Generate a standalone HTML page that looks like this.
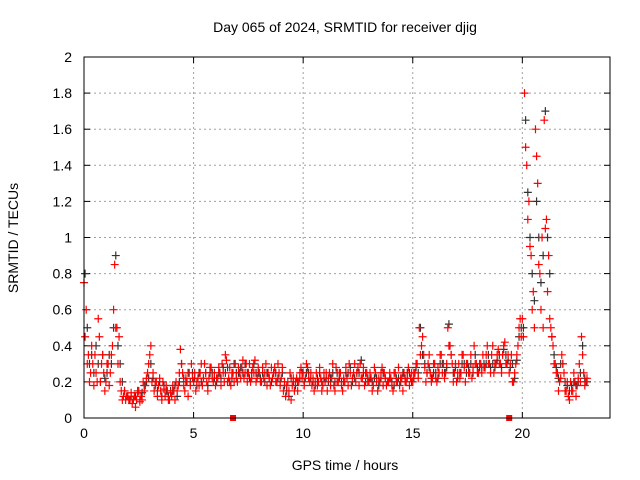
<!DOCTYPE html>
<html><head><meta charset="utf-8"><style>
body{margin:0;background:#fff;}
svg{display:block;font-family:"Liberation Sans",sans-serif;}
</style></head><body>
<svg id="chart" width="640" height="480">
<text x="345" y="32" font-size="14" text-anchor="middle">Day 065 of 2024, SRMTID for receiver djig</text>
<text x="345" y="470" font-size="14" text-anchor="middle">GPS time / hours</text>
<text x="18" y="238" font-size="14" text-anchor="middle" transform="rotate(-90 18 238)">SRMTID / TECUs</text>
<g id="grid"></g><g id="ticks"></g><g id="black"></g><g id="red"></g>
<rect x="84" y="57" width="526" height="361" fill="none" stroke="#000"/>
</svg>
<script>
const xTicks=[0,5,10,15,20];
const yTicks=[0,0.2,0.4,0.6,0.8,1,1.2,1.4,1.6,1.8,2];
const hours=[0,1,2,3,4,5,6,7,8,9,10,11,12,13,14,15,16,17,18,19,20,21,22];
const red1=[
[0.75,0.6,0.35,0.25,0.3,0.35,0.2,0.45,0.3,0.25],
[0.2,0.3,0.25,0.4,0.85,0.5,0.45,0.15,0.12,0.1],
[0.12,0.1,0.08,0.12,0.1,0.15,0.12,0.2,0.18,0.25],
[0.35,0.2,0.15,0.2,0.18,0.15,0.2,0.12,0.15,0.1],
[0.12,0.15,0.2,0.18,0.38,0.25,0.15,0.2,0.25,0.3],
[0.2,0.15,0.22,0.25,0.18,0.3,0.2,0.22,0.28,0.2],
[0.18,0.22,0.25,0.3,0.2,0.32,0.22,0.18,0.25,0.3],
[0.2,0.25,0.28,0.22,0.3,0.25,0.2,0.28,0.32,0.22],
[0.25,0.2,0.22,0.3,0.25,0.18,0.22,0.28,0.2,0.25],
[0.22,0.15,0.12,0.2,0.25,0.18,0.15,0.22,0.2,0.28],
[0.25,0.22,0.28,0.2,0.18,0.15,0.25,0.2,0.22,0.18],
[0.2,0.15,0.25,0.22,0.18,0.28,0.2,0.25,0.15,0.2],
[0.22,0.3,0.18,0.25,0.2,0.28,0.3,0.22,0.18,0.25],
[0.2,0.22,0.18,0.25,0.15,0.2,0.28,0.25,0.18,0.2],
[0.22,0.15,0.25,0.2,0.18,0.22,0.25,0.2,0.28,0.22],
[0.2,0.25,0.3,0.5,0.4,0.35,0.2,0.3,0.25,0.22],
[0.3,0.2,0.25,0.35,0.3,0.25,0.5,0.4,0.3,0.25],
[0.2,0.3,0.25,0.35,0.2,0.3,0.25,0.22,0.4,0.3],
[0.25,0.3,0.35,0.28,0.4,0.3,0.35,0.25,0.3,0.38],
[0.3,0.35,0.42,0.3,0.25,0.35,0.2,0.3,0.4,0.55],
[0.55,1.8,1.4,1.2,0.9,0.7,1.6,1.3,0.8,1.0],
[1.65,1.1,0.9,0.5,0.4,0.3,0.25,0.2,0.35,0.25],
[0.15,0.12,0.2,0.15,0.2,0.18,0.3,0.45,0.25,0.2]];
const red2=[
[0.45,0.3,0.2,0.4,0.18,0.25,0.55,0.2,0.35,0.15],
[0.3,0.18,0.35,0.6,0.5,0.3,0.2,0.1,0.15,0.12],
[0.1,0.14,0.1,0.06,0.14,0.09,0.1,0.15,0.22,0.3],
[0.4,0.25,0.2,0.12,0.22,0.1,0.16,0.18,0.1,0.14],
[0.18,0.1,0.15,0.25,0.3,0.18,0.22,0.12,0.18,0.22],
[0.25,0.2,0.18,0.3,0.22,0.25,0.15,0.28,0.22,0.25],
[0.22,0.28,0.18,0.25,0.35,0.2,0.28,0.25,0.2,0.22],
[0.28,0.22,0.32,0.25,0.2,0.3,0.22,0.25,0.2,0.28],
[0.2,0.28,0.25,0.18,0.22,0.28,0.25,0.2,0.3,0.18],
[0.28,0.2,0.18,0.15,0.1,0.22,0.2,0.15,0.25,0.22],
[0.18,0.3,0.22,0.25,0.22,0.2,0.18,0.28,0.15,0.25],
[0.25,0.22,0.18,0.3,0.15,0.2,0.25,0.18,0.22,0.28],
[0.18,0.25,0.22,0.3,0.25,0.18,0.22,0.28,0.25,0.2],
[0.25,0.15,0.28,0.2,0.22,0.25,0.18,0.22,0.2,0.25],
[0.18,0.25,0.2,0.28,0.22,0.15,0.2,0.22,0.18,0.25],
[0.25,0.3,0.22,0.35,0.45,0.28,0.25,0.35,0.2,0.3],
[0.22,0.28,0.35,0.25,0.22,0.3,0.4,0.35,0.2,0.3],
[0.25,0.22,0.35,0.28,0.3,0.25,0.35,0.28,0.3,0.25],
[0.3,0.25,0.28,0.35,0.3,0.25,0.4,0.3,0.35,0.3],
[0.25,0.4,0.3,0.35,0.3,0.2,0.25,0.35,0.5,0.45],
[0.45,1.5,1.1,0.95,0.6,0.5,1.45,0.85,0.6,0.5],
[1.05,0.7,0.55,0.45,0.3,0.25,0.15,0.22,0.3,0.15],
[0.2,0.1,0.15,0.25,0.12,0.22,0.2,0.35,0.18,0.22]];
const black1=[
[0.8,0.5,0.3,0.35,0.25,0.4,0.3,0.2,0.35,0.22],
[0.25,0.35,0.3,0.5,0.9,0.4,0.3,0.2,0.15,0.12],
[0.1,0.12,0.1,0.12,0.15,0.1,0.14,0.18,0.2,0.22],
[0.3,0.22,0.18,0.15,0.2,0.12,0.18,0.15,0.12,0.15],
[0.15,0.18,0.12,0.2,0.3,0.22,0.2,0.25,0.2,0.25],
[0.22,0.18,0.25,0.2,0.22,0.25,0.18,0.25,0.25,0.22],
[0.2,0.25,0.22,0.28,0.25,0.28,0.2,0.22,0.3,0.25],
[0.25,0.28,0.25,0.3,0.25,0.22,0.25,0.3,0.25,0.25],
[0.22,0.25,0.2,0.25,0.22,0.2,0.25,0.25,0.22,0.2],
[0.25,0.18,0.15,0.12,0.22,0.2,0.18,0.2,0.22,0.25],
[0.2,0.25,0.25,0.22,0.2,0.18,0.22,0.25,0.2,0.22],
[0.22,0.2,0.22,0.25,0.2,0.25,0.22,0.2,0.2,0.25],
[0.25,0.28,0.2,0.22,0.25,0.25,0.32,0.25,0.2,0.22],
[0.22,0.2,0.22,0.22,0.18,0.22,0.25,0.22,0.2,0.22],
[0.2,0.18,0.22,0.22,0.2,0.25,0.22,0.25,0.25,0.2],
[0.22,0.28,0.25,0.5,0.35,0.3,0.25,0.28,0.22,0.25],
[0.25,0.22,0.3,0.3,0.25,0.28,0.52,0.35,0.25,0.28],
[0.22,0.25,0.3,0.3,0.25,0.28,0.3,0.25,0.35,0.28],
[0.28,0.28,0.3,0.3,0.35,0.28,0.3,0.28,0.32,0.35],
[0.28,0.38,0.35,0.32,0.28,0.3,0.22,0.32,0.45,0.5],
[0.5,1.65,1.25,1.0,0.8,0.65,1.2,1.0,0.75,0.9],
[1.7,1.0,0.8,0.45,0.35,0.28,0.22,0.3,0.3,0.2],
[0.18,0.15,0.18,0.2,0.18,0.2,0.25,0.4,0.22,0.2]];
const markerTimes=[6.8,19.4];
const NS="http://www.w3.org/2000/svg";
const X0=84,X1=610,Y0=418,Y1=57,XMAX=24,YMAX=2;
function sx(v){return X0+(X1-X0)*v/XMAX;}
function sy(v){return Y0-(Y0-Y1)*v/YMAX;}
function mk(tag,attrs,parent){const e=document.createElementNS(NS,tag);for(const k in attrs)e.setAttribute(k,attrs[k]);parent.appendChild(e);return e;}
const grid=document.getElementById('grid'),ticks=document.getElementById('ticks');
xTicks.forEach(t=>{
  const x=sx(t);
  if(t>0){const l=mk('line',{x1:x,x2:x,y1:Y1,y2:Y0,stroke:'#a0a0a0','stroke-dasharray':'2,3'},grid);
  
  }
  mk('line',{x1:x,x2:x,y1:Y0,y2:Y0-6,stroke:'#000'},ticks);
  mk('line',{x1:x,x2:x,y1:Y1,y2:Y1+6,stroke:'#000'},ticks);
  const tx=mk('text',{x:x,y:Y0+20,'font-size':14,'text-anchor':'middle'},ticks);tx.textContent=t;
  
  
});
yTicks.forEach(t=>{
  const y=sy(t);
  if(t>0&&t<2){const l=mk('line',{x1:X0,x2:X1,y1:y,y2:y,stroke:'#a0a0a0','stroke-dasharray':'2,3'},grid);
  
  }
  mk('line',{x1:X0,x2:X0+6,y1:y,y2:y,stroke:'#000'},ticks);
  mk('line',{x1:X1,x2:X1-6,y1:y,y2:y,stroke:'#000'},ticks);
  const tx=mk('text',{x:X0-12,y:y+5,'font-size':14,'text-anchor':'end'},ticks);tx.textContent=t;
  
  
});
function plus(g,x,y,c,name){
  const p=mk('path',{d:`M${x-4},${y}h8M${x},${y-4}v8`,stroke:c,'stroke-width':1.2},g);
  
  
}
const gb=document.getElementById('black'),gr=document.getElementById('red');
hours.forEach((h,i)=>{
  black1[i].forEach((v,j)=>plus(gb,sx(h+j/10+0.05),sy(v),'#333','black-point'));
});
hours.forEach((h,i)=>{
  red1[i].forEach((v,j)=>plus(gr,sx(h+j/10),sy(v),'#f00','red-point'));
  red2[i].forEach((v,j)=>plus(gr,sx(h+j/10+0.05),sy(v),'#f00','red-point'));
});
markerTimes.forEach(t=>{
  const r=mk('rect',{x:sx(t)-3,y:Y0-3,width:6,height:6,fill:'#f00'},gr);
  
  
});
</script>
</body></html>
